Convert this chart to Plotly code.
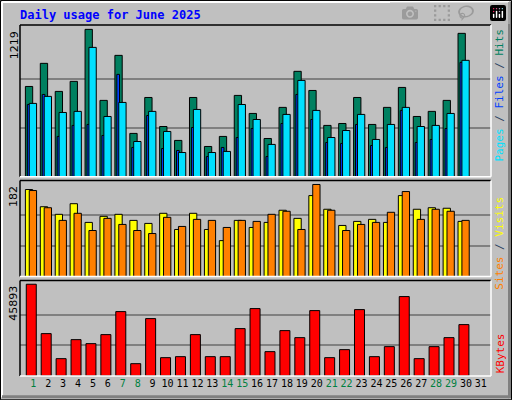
import plotly.graph_objects as go

days = list(range(1, 31))
hits = [747, 938, 706, 789, 1219, 632, 1004, 359, 656, 416, 301, 656, 251, 334, 673,
        524, 317, 574, 872, 714, 425, 441, 656, 433, 574, 739, 499, 541, 632, 1186]
files = [607, 665, 532, 541, 1070, 499, 615, 292, 541, 375, 201, 557, 201, 210, 598,
         474, 268, 516, 797, 549, 325, 383, 516, 309, 433, 574, 416, 425, 524, 963]
pages = [598, 681, 334, 425, 433, 342, 847, 243, 507, 234, 218, 408, 168, 243, 325,
         400, 168, 441, 681, 474, 284, 276, 433, 259, 243, 549, 284, 309, 400, 946]
visits = [172, 138, 123, 144, 107, 119, 123, 111, 105, 125, 93, 125, 93, 71, 111,
          97, 107, 131, 115, 160, 133, 101, 109, 113, 107, 160, 133, 136, 135, 109]
sites = [170, 136, 111, 125, 91, 115, 103, 91, 85, 117, 99, 113, 111, 97, 111,
         109, 123, 129, 93, 182, 131, 91, 103, 107, 127, 168, 113, 133, 129, 111]
kbytes = [45893, 21196, 8679, 18192, 16189, 20696, 32211, 6175, 28707, 9180, 9680,
          20696, 9680, 9680, 23700, 33714, 12184, 22698, 19194, 32712, 9180, 13185,
          33213, 9680, 14687, 39722, 8679, 14687, 19194, 25703]
weekend = [1, 7, 8, 14, 15, 21, 22, 28, 29]

W, H = 512, 400
X0, X1, Y0, Y1 = 20, 491, 25, 375.7


def px(x):
    return (x - X0) / (X1 - X0)


def py(y):
    return (Y1 - y) / (Y1 - Y0)


line = dict(color="black", width=1)
fig = go.Figure()
fig.add_bar(x=days, y=hits, offset=-0.53, width=0.49, marker=dict(color="#008060", line=line), xaxis="x", yaxis="y")
fig.add_bar(x=days, y=pages, offset=-0.4, width=0.18, marker=dict(color="#0040ff", line=line), xaxis="x", yaxis="y")
fig.add_bar(x=days, y=files, offset=-0.27, width=0.49, marker=dict(color="#00e0ff", line=line), xaxis="x", yaxis="y")
fig.add_bar(x=days, y=visits, offset=-0.53, width=0.49, marker=dict(color="#ffff00", line=line), xaxis="x2", yaxis="y2")
fig.add_bar(x=days, y=sites, offset=-0.27, width=0.49, marker=dict(color="#ff8000", line=line), xaxis="x2", yaxis="y2")
fig.add_bar(x=days, y=kbytes, offset=-0.47, width=0.67, marker=dict(color="#ff0000", line=line), xaxis="x3", yaxis="y3")

xr = [0.109, 31.68]
doms = [[0.5674, 1], [0.2834, 0.5572], [0, 0.272]]
maxes = [(1219, 1255), (182, 190), (45893, 47750)]
ticktext = ["<span style='color:#008040'>%d</span>" % d if d in weekend else str(d) for d in range(1, 32)]

xa = dict(range=xr, showgrid=False, zeroline=False, fixedrange=True)
fig.update_layout(
    width=W, height=H, margin=dict(l=20, r=21, t=25, b=24.3),
    paper_bgcolor="#c0c0c0", plot_bgcolor="#c0c0c0",
    barmode="overlay", showlegend=False,
    xaxis=dict(xa, anchor="y", showticklabels=False),
    xaxis2=dict(xa, anchor="y2", showticklabels=False),
    xaxis3=dict(xa, anchor="y3", tickvals=list(range(1, 32)), ticktext=ticktext, tickangle=0,
                tickfont=dict(family="DejaVu Sans Mono", size=10, color="black"), ticks=""),
)
for i, (dom, (m, top)) in enumerate(zip(doms, maxes)):
    key = "yaxis" if i == 0 else "yaxis%d" % (i + 1)
    fig.layout[key] = dict(domain=dom, range=[0, top], tickvals=[m / 3, 2 * m / 3],
                           showticklabels=False, gridcolor="#808080", gridwidth=1.5,
                           zeroline=False, fixedrange=True)
    ytop = Y1 - dom[1] * (Y1 - Y0)
    ybot = Y1 - dom[0] * (Y1 - Y0)
    # max label
    fig.add_annotation(xref="paper", yref="paper", x=px(14), y=dom[0] + (dom[1] - dom[0]) * m / top,
                       text=str(m), textangle=-90, showarrow=False, xanchor="center", yanchor="top",
                       font=dict(family="DejaVu Sans", size=11, color="black"))
    # panel frame
    fig.add_shape(type="line", xref="paper", yref="paper", x0=0, x1=1, y0=py(ytop), y1=py(ytop), line=dict(color="black", width=1.5))
    fig.add_shape(type="line", xref="paper", yref="paper", x0=0, x1=0, y0=py(ytop), y1=py(ybot), line=dict(color="black", width=1.5))
    fig.add_shape(type="line", xref="paper", yref="paper", x0=0, x1=1, y0=py(ybot), y1=py(ybot), line=dict(color="white", width=1.5))
    fig.add_shape(type="line", xref="paper", yref="paper", x0=1, x1=1, y0=py(ytop), y1=py(ybot), line=dict(color="white", width=1.5))

mono = "DejaVu Sans Mono"
fig.add_annotation(xref="paper", yref="paper", x=px(18), y=py(15), xanchor="left", yanchor="middle",
                   text="<b>Daily usage for June 2025</b>", showarrow=False,
                   font=dict(family=mono, size=12, color="#0000ff"))
fig.add_annotation(xref="paper", yref="paper", x=px(500), y=py(27), xanchor="center", yanchor="top",
                   textangle=-90, showarrow=False, font=dict(family=mono, size=11),
                   text="<span style='color:#00e0ff'>Pages</span> / <span style='color:#0040ff'>Files</span> / <span style='color:#008060'>Hits</span>")
fig.add_annotation(xref="paper", yref="paper", x=px(500), y=py(195), xanchor="center", yanchor="top",
                   textangle=-90, showarrow=False, font=dict(family=mono, size=11),
                   text="<span style='color:#ff8000'>Sites</span> / <span style='color:#ffff00'>Visits</span>")
fig.add_annotation(xref="paper", yref="paper", x=px(500), y=py(375), xanchor="center", yanchor="bottom",
                   textangle=-90, showarrow=False, font=dict(family=mono, size=11, color="#ff0000"),
                   text="KBytes")

# outer bevel border
fig.add_shape(type="rect", xref="paper", yref="paper", x0=px(0.5), x1=px(511.5), y0=py(399.5), y1=py(0.5),
              line=dict(color="black", width=1), layer="below")
fig.add_shape(type="line", xref="paper", yref="paper", x0=px(2), x1=px(509), y0=py(2), y1=py(2), line=dict(color="white", width=2))
fig.add_shape(type="line", xref="paper", yref="paper", x0=px(2), x1=px(2), y0=py(2), y1=py(397), line=dict(color="white", width=2))
fig.add_shape(type="line", xref="paper", yref="paper", x0=px(2), x1=px(509), y0=py(396.5), y1=py(396.5), line=dict(color="#808080", width=3))
fig.add_shape(type="line", xref="paper", yref="paper", x0=px(509.5), x1=px(509.5), y0=py(2), y1=py(398), line=dict(color="#808080", width=3))

fig.write_html("out.html", post_script="document.body.style.margin='0';")
